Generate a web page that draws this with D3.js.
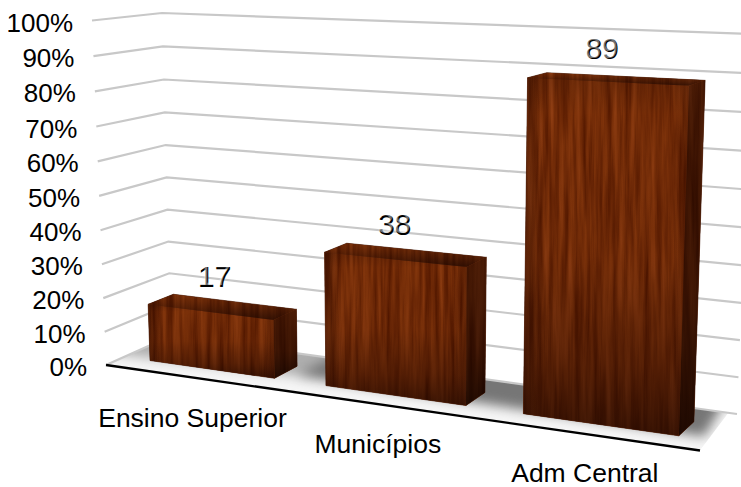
<!DOCTYPE html>
<html>
<head>
<meta charset="utf-8">
<script src="https://cdn.jsdelivr.net/npm/d3@7"></script>
<style>
  html, body { margin: 0; padding: 0; background: #fff; }
  svg { display: block; font-family: "Liberation Sans", Arial, sans-serif; }
</style>
</head>
<body>
<svg width="741" height="487"></svg>
<script>
var categories = ["Ensino Superior", "Municípios", "Adm Central"];
var values = [17, 38, 89];
var tickValues = [0, 10, 20, 30, 40, 50, 60, 70, 80, 90, 100];
var tickLabels = ["0%", "10%", "20%", "30%", "40%", "50%", "60%", "70%", "80%", "90%", "100%"];

var svg = d3.select("svg");
var defs = svg.append("defs");

// corners of the chart box on screen: c[u][v][w], u along the front, v into depth, w up
var c = [
  [[[106, 365], [92, 20.5]], [[171, 336], [162, 13]]],
  [[[700, 450.5], [712, 45.5]], [[737, 414], [752, 34]]]
];
var mix = (a, b, t) => [a[0] + (b[0] - a[0]) * t, a[1] + (b[1] - a[1]) * t];

function project(u, v, w) {
  var front = mix(mix(c[0][0][0], c[0][0][1], w), mix(c[1][0][0], c[1][0][1], w), u);
  var back = mix(mix(c[0][1][0], c[0][1][1], w), mix(c[1][1][0], c[1][1][1], w), u);
  return mix(front, back, v);
}

// the box gets taller toward the top and wider toward the right
var yScale = d3.scaleLinear().domain([0, 100]).range([0, 1]);
var lift = (value) => {
  var t = yScale(value);
  return t * 0.964 / (1 - 0.036 * t);
};
var xBand = d3.scaleBand().domain(categories).range([0, 1]).paddingInner(0.28).paddingOuter(0.14);
var xWarp = (b) => 0.005 + 0.83 * b + 0.165 * b * b;
var depthNear = 0.28, depthFar = 0.67;

var toPath = d3.line();
var polygon = (pts) => toPath(pts) + "Z";

// wood grain: stretched noise pushed through a brown colour ramp
function woodFilter(id, seed) {
  var f = defs.append("filter").attr("id", id)
    .attr("x", 0).attr("y", 0).attr("width", 1).attr("height", 1)
    .attr("color-interpolation-filters", "sRGB");
  f.append("feTurbulence").attr("type", "fractalNoise")
    .attr("baseFrequency", "0.16 0.008").attr("numOctaves", 4).attr("seed", seed);
  f.append("feColorMatrix").attr("type", "matrix")
    .attr("values", "1 0 0 0 0  1 0 0 0 0  1 0 0 0 0  0 0 0 0 1");
  var ramp = f.append("feComponentTransfer");
  ramp.append("feFuncR").attr("type", "table").attr("tableValues", "0.30 0.34 0.42 0.50 0.56 0.60");
  ramp.append("feFuncG").attr("type", "table").attr("tableValues", "0.07 0.10 0.15 0.20 0.24 0.27");
  ramp.append("feFuncB").attr("type", "table").attr("tableValues", "0.00 0.00 0.02 0.04 0.07 0.09");
}
values.forEach((d, i) => woodFilter("wood" + i, 3 + i * 5));

function shade(id, stops, x2, y2) {
  var g = defs.append("linearGradient").attr("id", id)
    .attr("x1", 0).attr("y1", 0).attr("x2", x2).attr("y2", y2);
  stops.forEach((s) => {
    g.append("stop").attr("offset", s[0]).attr("stop-color", s[1]).attr("stop-opacity", s[2]);
  });
}
shade("frontShade", [[0, "#1c0500", 0.2], [0.1, "#1c0500", 0.02], [0.5, "#1c0500", 0.08], [0.8, "#1c0500", 0.38], [1, "#140300", 0.66]], 0, 1);
shade("frontEdges", [[0, "#1c0500", 0.35], [0.12, "#1c0500", 0], [0.9, "#1c0500", 0], [1, "#1c0500", 0.2]], 1, 0);
shade("topShade", [[0, "#1c0500", 0.05], [1, "#140300", 0.7]], 0, 1);
shade("sideShade", [[0, "#140300", 0.5], [0.6, "#140300", 0.6], [1, "#0c0200", 0.82]], 0, 1);

defs.append("filter").attr("id", "soft")
  .attr("filterUnits", "userSpaceOnUse")
  .attr("x", 0).attr("y", 0).attr("width", 741).attr("height", 487)
  .attr("color-interpolation-filters", "sRGB")
  .append("feGaussianBlur").attr("stdDeviation", 6);

// floor: pale slab, with the shadow gathered behind and beside the bars
var floorPath = polygon([project(0, 0, 0), project(1, 0, 0), project(0.985, 1, 0), project(0, 1, 0)]);
defs.append("clipPath").attr("id", "floorClip").append("path").attr("d", floorPath);
var floor = svg.append("g").attr("clip-path", "url(#floorClip)");
floor.append("path").attr("d", floorPath).attr("fill", "#f6f6f6");
var shadow = floor.append("g").attr("filter", "url(#soft)");
shadow.append("path").attr("fill", "#767676")
  .attr("d", polygon([project(0.28, 0.42, 0), project(0.985, 0.35, 0), project(0.96, 1.3, 0), project(0.28, 1.3, 0)]));
shadow.append("path").attr("fill", "#aeaeae")
  .attr("d", polygon([project(-0.1, 0.3, 0), project(0.28, 0.42, 0), project(0.28, 1.3, 0), project(-0.1, 1.3, 0)]));

// grid on the two walls
svg.append("g").selectAll("path").data(tickValues).enter().append("path")
  .attr("d", (d) => toPath([project(0, 0, lift(d)), project(0, 1, lift(d)), project(1, 1, lift(d))]))
  .attr("fill", "none")
  .attr("stroke", "#c8c8c8")
  .attr("stroke-width", 2.2);

svg.append("path")
  .attr("d", toPath([project(0, 0, 0), project(1, 0, 0)]))
  .attr("stroke", "#000")
  .attr("stroke-width", 2.4)
  .attr("fill", "none");

// bars
var bars = svg.append("g").selectAll("g").data(values).enter().append("g");

bars.each(function (d, i) {
  var g = d3.select(this);
  var u0 = xWarp(xBand(categories[i]));
  var u1 = xWarp(xBand(categories[i]) + xBand.bandwidth());
  var h = lift(d);
  var faces = [
    { name: "front", pts: [project(u0, depthNear, h), project(u1, depthNear, h), project(u1, depthNear, 0), project(u0, depthNear, 0)], shades: ["frontShade", "frontEdges"] },
    { name: "top", pts: [project(u0, depthFar, h), project(u1, depthFar, h), project(u1, depthNear, h), project(u0, depthNear, h)], shades: ["topShade"] },
    { name: "side", pts: [project(u1, depthNear, h), project(u1, depthFar, h), project(u1, depthFar, 0), project(u1, depthNear, 0)], shades: ["sideShade"] }
  ];
  // dark backing so no seam shows between the clipped faces
  faces.forEach((face) => {
    g.append("path").attr("d", polygon(face.pts))
      .attr("fill", "#3a1000").attr("stroke", "#3a1000").attr("stroke-width", 0.6);
  });
  faces.forEach((face) => {
    var id = face.name + "Clip" + i;
    defs.append("clipPath").attr("id", id).append("path").attr("d", polygon(face.pts));
    var x = d3.extent(face.pts, (p) => p[0]);
    var y = d3.extent(face.pts, (p) => p[1]);
    var part = g.append("g").attr("clip-path", "url(#" + id + ")");
    part.append("rect")
      .attr("x", x[0]).attr("y", y[0]).attr("width", x[1] - x[0]).attr("height", y[1] - y[0])
      .attr("filter", "url(#wood" + i + ")");
    face.shades.forEach((s) => {
      part.append("rect")
        .attr("x", x[0]).attr("y", y[0]).attr("width", x[1] - x[0]).attr("height", y[1] - y[0])
        .attr("fill", "url(#" + s + ")");
    });
  });
});

// value labels: dark copy with a pale one just above it
var labelPos = (d, i) => {
  var mid = xWarp(xBand(categories[i]) + xBand.bandwidth() / 2);
  var p = project(mid, (depthNear + depthFar) / 2, lift(d));
  return [p[0] - 6 - 10 * mid, p[1] - 21];
};
[["#000", 0.8, 0.8, 1], ["#fff", -0.3, -0.3, 0.45]].forEach((layer) => {
  svg.append("g").selectAll("text").data(values).enter().append("text")
    .text((d) => d)
    .attr("x", (d, i) => labelPos(d, i)[0] + layer[1])
    .attr("y", (d, i) => labelPos(d, i)[1] + layer[2])
    .attr("text-anchor", "middle")
    .attr("font-size", 30)
    .attr("fill", layer[0])
    .attr("fill-opacity", layer[3]);
});

// percent labels follow the left edge
svg.append("g").selectAll("text").data(tickValues).enter().append("text")
  .text((d, i) => tickLabels[i])
  .attr("x", (d) => project(0, 0, lift(d))[0] - 19)
  .attr("y", (d) => project(0, 0, lift(d))[1] + 11)
  .attr("text-anchor", "end")
  .attr("font-size", 26)
  .attr("fill", "#000");

// category labels under the front edge
var catMid = (d) => xWarp(xBand(d) + xBand.bandwidth() / 2);
svg.append("g").selectAll("text").data(categories).enter().append("text")
  .text((d) => d)
  .attr("x", (d) => project(catMid(d), 0, 0)[0] - 1 - 2.5 * catMid(d))
  .attr("y", (d) => project(catMid(d), 0, 0)[1] + 50 - 2.8 * catMid(d))
  .attr("text-anchor", "middle")
  .attr("font-size", 26.5)
  .attr("fill", "#000");
</script>
</body>
</html>
